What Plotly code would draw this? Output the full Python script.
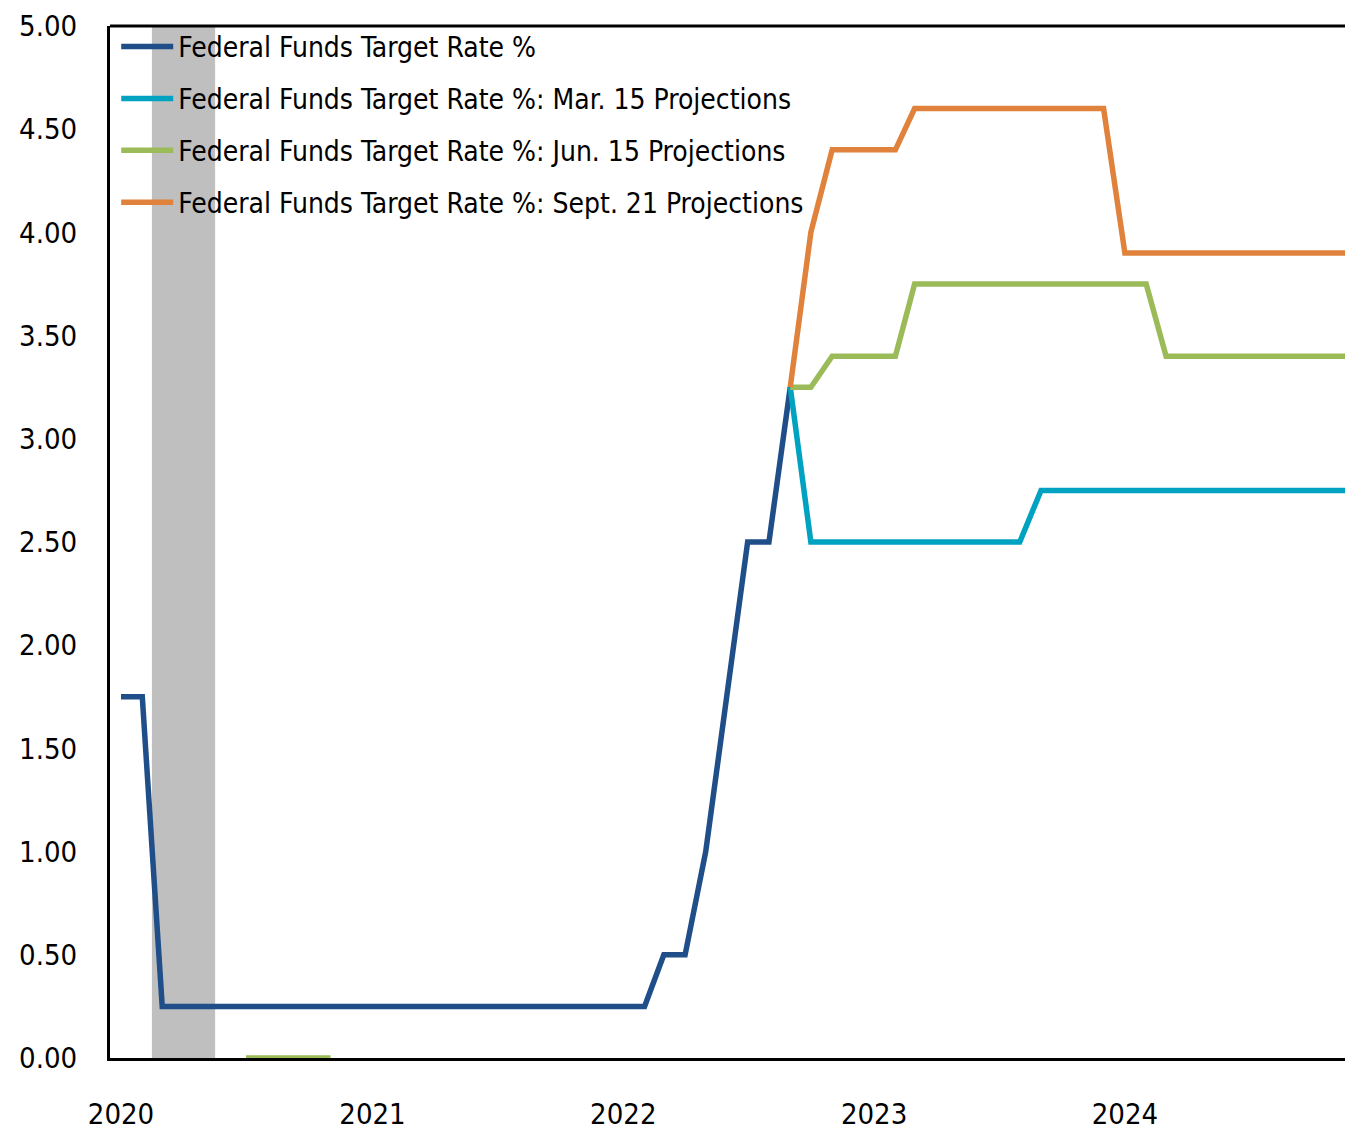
import pandas as pd
import plotly.graph_objects as go

# monthly dates
actual_dates = pd.date_range("2020-01-01", "2022-09-01", freq="MS")
proj_dates = pd.date_range("2022-09-01", "2024-12-01", freq="MS")
jun_zero_dates = pd.date_range("2020-07-01", "2020-11-01", freq="MS")

fed_funds = [1.75, 1.75, 0.25, 0.25, 0.25, 0.25, 0.25, 0.25, 0.25, 0.25, 0.25, 0.25,
             0.25, 0.25, 0.25, 0.25, 0.25, 0.25, 0.25, 0.25, 0.25, 0.25, 0.25, 0.25,
             0.25, 0.25, 0.50, 0.50, 1.00, 1.75, 2.50, 2.50, 3.25]

mar15 = [3.25, 2.50, 2.50, 2.50, 2.50, 2.50, 2.50, 2.50, 2.50, 2.50, 2.50, 2.50,
         2.75, 2.75, 2.75, 2.75, 2.75, 2.75, 2.75, 2.75, 2.75, 2.75, 2.75, 2.75,
         2.75, 2.75, 2.75, 2.75]

jun15 = [3.25, 3.25, 3.40, 3.40, 3.40, 3.40, 3.75, 3.75, 3.75, 3.75, 3.75, 3.75,
         3.75, 3.75, 3.75, 3.75, 3.75, 3.75, 3.40, 3.40, 3.40, 3.40, 3.40, 3.40,
         3.40, 3.40, 3.40, 3.40]
jun15_zero = [0, 0, 0, 0, 0]

sep21 = [3.25, 4.00, 4.40, 4.40, 4.40, 4.40, 4.60, 4.60, 4.60, 4.60, 4.60, 4.60,
         4.60, 4.60, 4.60, 4.60, 3.90, 3.90, 3.90, 3.90, 3.90, 3.90, 3.90, 3.90,
         3.90, 3.90, 3.90, 3.90]

recession = ("2020-02-15", "2020-05-17")

FONT = "Liberation Sans Narrow, Arial Narrow, DejaVu Sans Condensed, sans-serif"

fig = go.Figure()
fig.add_trace(go.Scatter(
    x=list(actual_dates), y=fed_funds, mode="lines",
    name="Federal Funds Target Rate %", legendgroup="a",
    line=dict(color="#1F4E89", width=5.5),
))
fig.add_trace(go.Scatter(
    x=list(proj_dates), y=mar15, mode="lines",
    name="Federal Funds Target Rate %: Mar. 15 Projections", legendgroup="b",
    line=dict(color="#00A2C1", width=5.5),
))
fig.add_trace(go.Scatter(
    x=list(jun_zero_dates) + [None] + list(proj_dates),
    y=jun15_zero + [None] + jun15, mode="lines",
    name="Federal Funds Target Rate %: Jun. 15 Projections", legendgroup="c",
    line=dict(color="#9BBB59", width=5.5),
))
fig.add_trace(go.Scatter(
    x=list(proj_dates), y=sep21, mode="lines",
    name="Federal Funds Target Rate %: Sept. 21 Projections", legendgroup="d",
    line=dict(color="#E0823B", width=5.5),
))

# recession shading
fig.add_shape(type="rect", xref="x", yref="y", x0=recession[0], x1=recession[1],
              y0=0, y1=5, fillcolor="#BFBFBF", line_width=0, layer="below")
# top frame line
fig.add_shape(type="line", xref="paper", yref="paper", x0=0, x1=1, y0=1, y1=1,
              line=dict(color="black", width=3))

fig.update_layout(
    width=1345, height=1123,
    margin=dict(l=102, r=0, t=18, b=71),
    plot_bgcolor="white", paper_bgcolor="white",
    font=dict(family=FONT, size=29, color="black"),
    showlegend=True,
    legend=dict(x=0.005, y=1.004, xanchor="left", yanchor="top",
                bgcolor="rgba(0,0,0,0)", font=dict(size=28, family=FONT),
                itemwidth=52, traceorder="grouped", tracegroupgap=12.5),
)
fig.update_xaxes(
    range=["2019-12-16", "2024-11-28"], dtick="M12", tick0="2020-01-01",
    tickformat="%Y", showgrid=False, zeroline=False,
    showline=True, linecolor="black", linewidth=3,
    ticks="", ticklabelstandoff=28, tickfont=dict(size=29),
    ticklabeloverflow="allow",
)
fig.update_yaxes(
    range=[0, 5], dtick=0.5, tickformat=".2f", showgrid=False, zeroline=False,
    showline=True, linecolor="black", linewidth=3,
    ticks="", ticklabelstandoff=24, tickfont=dict(size=29),
    ticklabeloverflow="allow",
)

fig.write_html("out.html")
